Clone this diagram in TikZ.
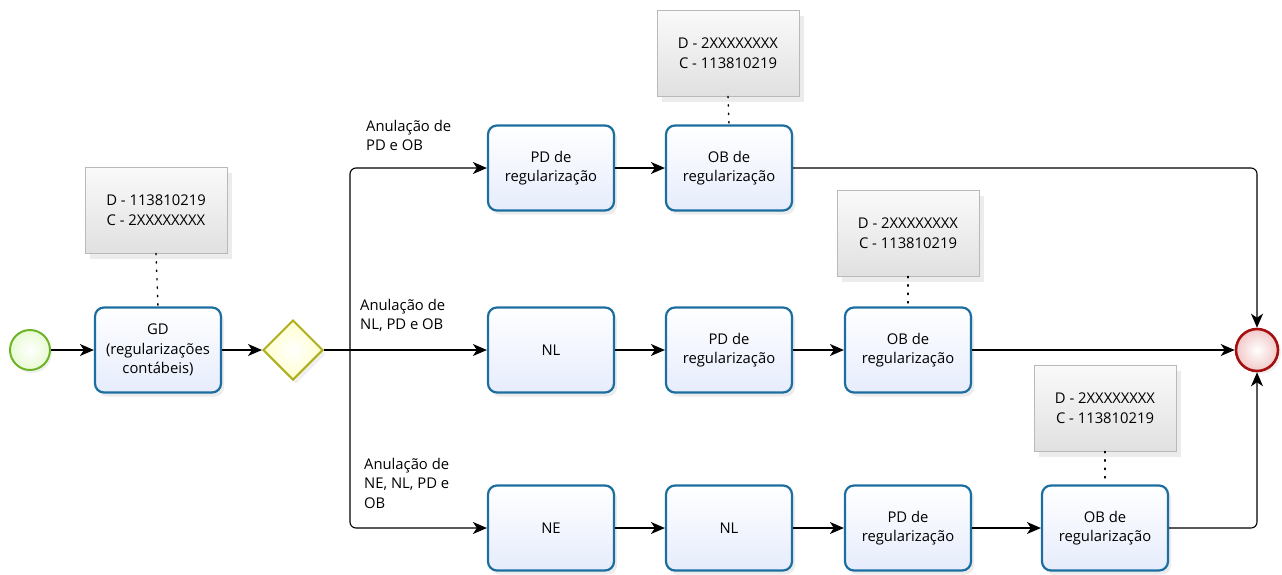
\documentclass[tikz,border=0pt]{standalone}
\usepackage{fontspec}
\setmainfont{Open Sans}
\usetikzlibrary{arrows.meta,shapes.geometric,shadows}
\definecolor{taskblue}{RGB}{28,110,160}
\definecolor{taskfill}{RGB}{230,236,252}
\definecolor{startgreen}{RGB}{110,180,40}
\definecolor{startfill}{RGB}{232,250,210}
\definecolor{gwstroke}{RGB}{175,175,30}
\definecolor{gwfill}{RGB}{255,255,205}
\definecolor{endred}{RGB}{165,15,15}
\definecolor{endfill}{RGB}{242,200,200}
\tikzset{
  txt/.style={font=\fontsize{14.8}{19.5}\selectfont},
  task/.style={txt, draw=taskblue, line width=2.2pt, rounded corners=9pt,
    minimum width=126pt, minimum height=85pt, align=center, inner sep=2pt,
    top color=white, bottom color=taskfill,
    drop shadow={shadow xshift=3pt, shadow yshift=-4pt, opacity=0.15}},
  anno/.style={txt, draw=gray!55, line width=0.7pt, minimum width=142pt,
    minimum height=86pt, align=center, top color=gray!4, bottom color=gray!24,
    drop shadow={shadow xshift=5pt, shadow yshift=-6pt, opacity=0.15}},
  flow/.style={draw=black, line width=1.1pt, rounded corners=6pt,
    -{Stealth[length=14pt, width=12pt, inset=4pt]}},
  assoc/.style={draw=black, line width=1.4pt, dash pattern=on 1.4pt off 7pt, line cap=round},
  elabel/.style={txt, align=left, anchor=north west, inner sep=0pt}
}
\begin{document}
\begin{tikzpicture}[x=1pt, y=-1pt]
\useasboundingbox (0,0) rectangle (1282,574);
% events and gateway
\node[circle, draw=startgreen, line width=2pt, inner color=white, outer color=startfill, minimum size=40pt,
  drop shadow={shadow xshift=2pt, shadow yshift=-3pt, opacity=0.12}] (start) at (30,350) {};
\node[task] (gd) at (158,350) {GD\\(regularizações\\contábeis)};
\node[diamond, draw=gwstroke, line width=2pt, inner color=white, outer color=gwfill, minimum width=60pt, minimum height=60pt,
  inner sep=0pt, drop shadow={shadow xshift=3pt, shadow yshift=-4pt, opacity=0.12}] (gw) at (293,350) {};
\node[circle, draw=endred, line width=2.6pt, inner color=white, outer color=endfill, minimum size=42pt,
  drop shadow={shadow xshift=3pt, shadow yshift=-3pt, opacity=0.12}] (end) at (1257,350) {};
% top row
\node[task] (pd1) at (551,168) {PD de\\regularização};
\node[task] (ob1) at (729,168) {OB de\\regularização};
% middle row
\node[task] (nl2) at (551,350) {NL};
\node[task] (pd2) at (729,350) {PD de\\regularização};
\node[task] (ob2) at (908,350) {OB de\\regularização};
% bottom row
\node[task] (ne3) at (551,528) {NE};
\node[task] (nl3) at (729,528) {NL};
\node[task] (pd3) at (908,528) {PD de\\regularização};
\node[task] (ob3) at (1105,528) {OB de\\regularização};
% annotations
\node[anno] (a0) at (156,210) {D - 113810219\\C - 2XXXXXXXX};
\node[anno] (a1) at (728,53) {D - 2XXXXXXXX\\C - 113810219};
\node[anno] (a2) at (908,233) {D - 2XXXXXXXX\\C - 113810219};
\node[anno] (a3) at (1105,408) {D - 2XXXXXXXX\\C - 113810219};
\draw[assoc] (a0.south) -- (gd.north);
\draw[assoc] (a1.south) -- (ob1.north);
\draw[assoc] (a2.south) -- (ob2.north);
\draw[assoc] (a3.south) -- (ob3.north);
% flows
\coordinate (split) at (350,350);
\draw[flow] (start) -- (gd);
\draw[flow] (gd) -- (gw);
\draw[flow] (gw.east) -- (nl2.west);
\draw[flow] (split) |- (pd1.west);
\draw[flow] (split) |- (ne3.west);
\draw[flow] (pd1) -- (ob1);
\draw[flow] (nl2) -- (pd2);
\draw[flow] (pd2) -- (ob2);
\draw[flow] (ne3) -- (nl3);
\draw[flow] (nl3) -- (pd3);
\draw[flow] (pd3) -- (ob3);
\draw[flow] (ob1.east) -| (end.north);
\draw[flow] (ob2.east) -- (end.west);
\draw[flow] (ob3.east) -| (end.south);
% labels
\node[elabel] (l1) at (366,120) {Anulação de\\PD e OB};
\node[elabel] (l2) at (360,299) {Anulação de\\NL, PD e OB};
\node[elabel] (l3) at (364,458) {Anulação de\\NE, NL, PD e\\OB};
\end{tikzpicture}
\end{document}
